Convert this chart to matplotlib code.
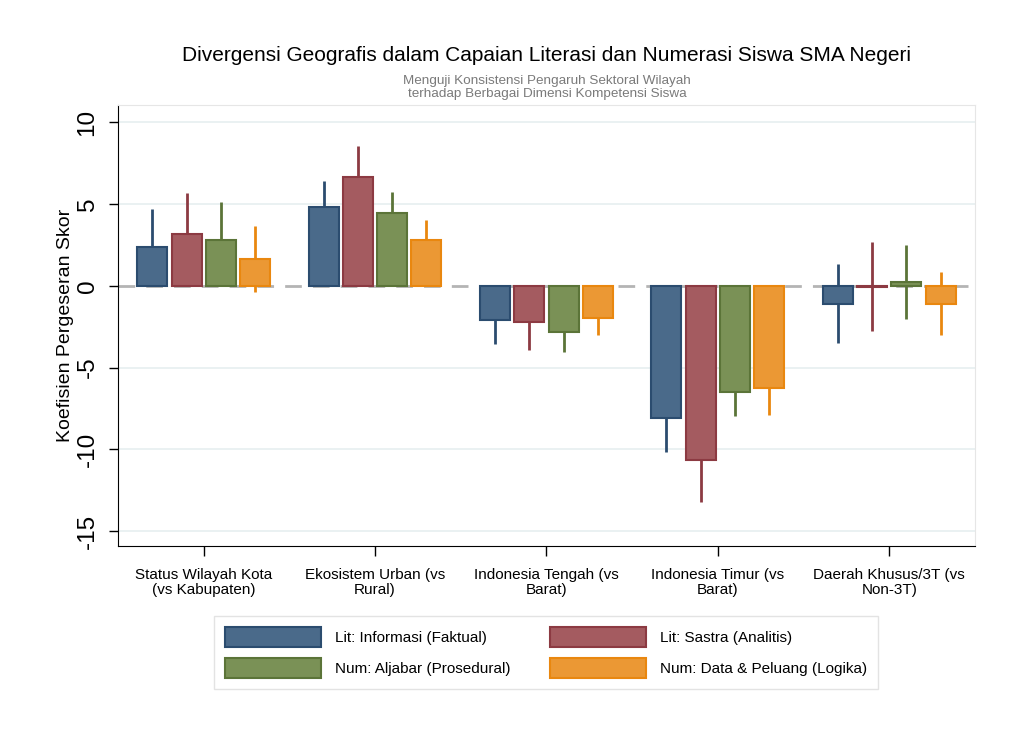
import numpy as np
import matplotlib
matplotlib.use("Agg")
import matplotlib.pyplot as plt
from matplotlib.patches import Patch

plt.rcParams['font.family'] = ['Liberation Sans', 'DejaVu Sans']

# data
categories = ["Status Wilayah Kota\n(vs Kabupaten)", "Ekosistem Urban (vs\nRural)",
              "Indonesia Tengah (vs\nBarat)", "Indonesia Timur (vs\nBarat)",
              "Daerah Khusus/3T (vs\nNon-3T)"]
series_names = ["Lit: Informasi (Faktual)", "Lit: Sastra (Analitis)",
                "Num: Aljabar (Prosedural)", "Num: Data & Peluang (Logika)"]

lit_info = [2.38, 4.83, -2.08, -8.06, -1.08]
lit_sastra = [3.18, 6.68, -2.20, -10.65, -0.05]
num_aljabar = [2.80, 4.44, -2.83, -6.48, 0.22]
num_data = [1.65, 2.83, -1.95, -6.23, -1.08]

# 95% CI half-widths
ci_info = [2.32, 1.58, 1.47, 2.08, 2.40]
ci_sastra = [2.50, 1.87, 1.75, 2.59, 2.70]
ci_aljabar = [2.33, 1.30, 1.22, 1.50, 2.26]
ci_data = [2.02, 1.18, 1.04, 1.69, 1.90]

yticks = [10, 5, 0, -5, -10, -15]

fills = ["#4a6a8a", "#a45b60", "#7a9156", "#eb9834"]
edges = ["#2b4c6f", "#8c3a42", "#5b7438", "#e9870f"]

values = [lit_info, lit_sastra, num_aljabar, num_data]
cis = [ci_info, ci_sastra, ci_aljabar, ci_data]

fig = plt.figure(figsize=(10.24, 7.45), dpi=100)
ax = fig.add_axes([0.1152, 0.2671, 0.8369, 0.5919])

x = np.arange(1, len(categories) + 1)
step = 0.2
width = 0.175

for i in range(4):
    pos = x + (i - 1.5) * step
    ax.errorbar(pos, values[i], yerr=cis[i], fmt='none', ecolor=edges[i],
                elinewidth=2, capsize=0, zorder=2)
    ax.bar(pos, values[i], width=width, color=fills[i], edgecolor=edges[i],
           linewidth=1.5, zorder=3)

ax.axhline(0, color="#b4b4b4", linestyle=(0, (6, 4)), linewidth=2, zorder=1)

ax.set_xlim(0.5, 5.5)
ax.set_ylim(-15.9, 11.05)
ax.set_yticks(yticks)
ax.set_yticklabels([str(t) for t in yticks], rotation=90, va='center', fontsize=17.5)
ax.set_xticks(x)
ax.set_xticklabels(categories, fontsize=11, linespacing=1.15)
ax.tick_params(axis='y', length=6.5, width=1, pad=7.5)
ax.tick_params(axis='x', length=7.5, width=1, pad=8)

for t in yticks:
    if t != 0:
        ax.axhline(t, color="#e8f0f1", linewidth=1.3, zorder=0)

ax.spines['top'].set_color("#e6e6e6")
ax.spines['right'].set_color("#e6e6e6")
ax.spines['left'].set_color("black")
ax.spines['bottom'].set_color("black")

ax.set_ylabel("Koefisien Pergeseran Skor", fontsize=14, labelpad=2)

fig.text(0.534, 0.926, "Divergensi Geografis dalam Capaian Literasi dan Numerasi Siswa SMA Negeri",
         ha='center', va='center', fontsize=15)
fig.text(0.534, 0.8826, "Menguji Konsistensi Pengaruh Sektoral Wilayah\nterhadap Berbagai Dimensi Kompetensi Siswa",
         ha='center', va='center', fontsize=9.7, color="#7a7a7a", linespacing=1.15)

# legend filled row by row, like the reference
order = [0, 2, 1, 3]
handles = [Patch(facecolor=fills[i], edgecolor=edges[i], linewidth=1.5) for i in order]
labels = [series_names[i] for i in order]
leg = fig.legend(handles, labels, loc='center', bbox_to_anchor=(0.533, 0.124),
                 ncol=2, fontsize=11, handlelength=6.3, handleheight=1.63,
                 handletextpad=0.9, columnspacing=2.6, labelspacing=0.72,
                 frameon=True, fancybox=False, borderpad=0.72)
leg.get_frame().set_edgecolor("#dcdcdc")
leg.get_frame().set_linewidth(1)

fig.savefig("out.png", dpi=100)
